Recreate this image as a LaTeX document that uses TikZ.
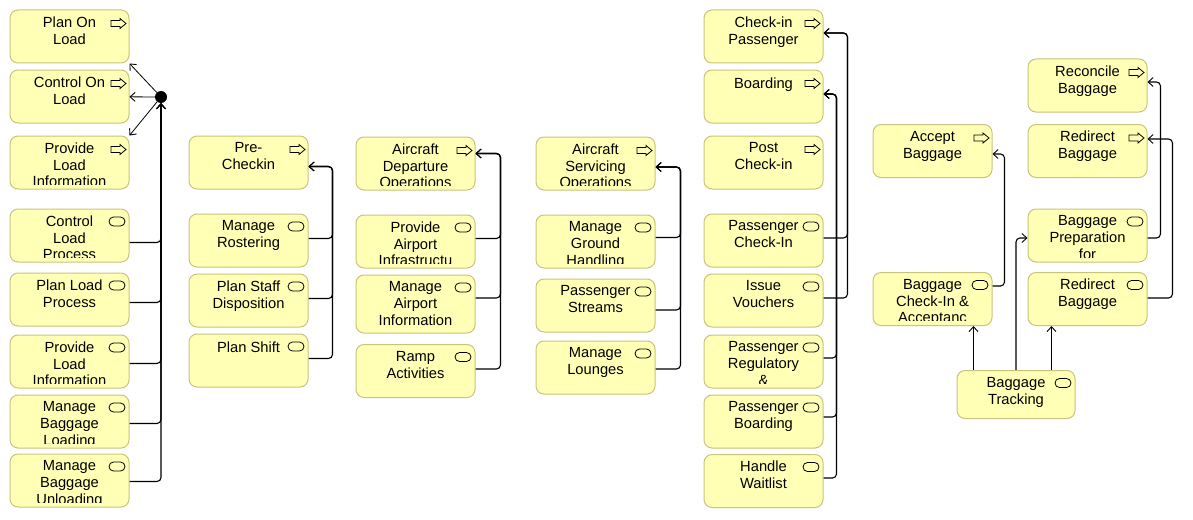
\documentclass[tikz,border=0pt]{standalone}
\usepackage{fontspec}
\setmainfont{Liberation Sans}
\usepackage{tikz}
\usetikzlibrary{arrows.meta}
\usetikzlibrary{positioning}
\definecolor{boxfill}{RGB}{255,255,181}
\definecolor{boxline}{RGB}{200,196,125}
\tikzset{link/.style = {line width=1.1, -{Straight Barb[length=5pt, width=9pt, line width=0.9pt]}}}
\tikzset{junction/.style = {fill, circle, inner sep = 0, minimum size = 12}}
\tikzset{box/.style = {draw=boxline, fill=boxfill, line width=1, rounded corners=8,
                       inner sep=0, minimum width=119, minimum height=53}}
\tikzset{boxtext/.style = {draw=none, fill=none, inner sep=0, minimum width=0, minimum height=0,
                           anchor=north, align=center, font=\fontsize{14.7}{16.7}\selectfont,
                           execute at begin node=\strut}}
\tikzset{icon/.style = {draw=black, fill=boxfill, line width=0.8, sharp corners}}
\tikzset{proc/.style = {box, path picture={
  \clip ([yshift=5pt]path picture bounding box.south west) rectangle (path picture bounding box.north east);
  \node [boxtext] at ([yshift=-6.3pt]path picture bounding box.north) {#1};
  \draw [icon] (path picture bounding box.north east) ++(-18,10.5) -- ++(9,0) -- ++(0,-2)
    -- ++(6,5) -- ++(-6,5) -- ++(0,-2) -- ++(-9,0) -- cycle;}}}
\tikzset{serv/.style = {box, path picture={
  \clip ([yshift=5pt]path picture bounding box.south west) rectangle (path picture bounding box.north east);
  \node [boxtext] at ([yshift=-6.3pt]path picture bounding box.north) {#1};
  \draw [icon, rounded corners=4.5] (path picture bounding box.north east) ++(-20,8) rectangle ++(16,9);}}}

\begin{document}
\begin{tikzpicture}[x=1pt, y=-1pt]
    \useasboundingbox (0,0) rectangle (1193,519);

    % load control
    \node [proc={Plan On\\Load}] (pol) at (69.5,36.5) {};
    \node [proc={Control On\\Load}] (col) at (69.5,96.5) {};
    \node [proc={Provide\\Load\\Information}] (pli) at (69.5,162.5) {};
    \node [serv={Control\\Load\\Process}] (clp) at (69.5,235.5) {};
    \node [serv={Plan Load\\Process}] (plp) at (69.5,299.5) {};
    \node [serv={Provide\\Load\\Information}] (pli2) at (69.5,361.5) {};
    \node [serv={Manage\\Baggage\\Loading}] (mbl) at (69.5,421.5) {};
    \node [serv={Manage\\Baggage\\Unloading}] (mbu) at (69.5,480.5) {};
    \node [junction] (jn) at (161,97) {};

    \draw [link, line width=0.8] (jn) -- (pol.south east);
    \draw [link, line width=0.8] (jn) -- (col);
    \draw [link, line width=0.8] (jn) -- (pli.north east);
    \draw [link, rounded corners=4] ([yshift=-7pt]clp.east) -| (jn);
    \draw [link, rounded corners=4] ([yshift=-3pt]plp.east) -| (jn);
    \draw [link, rounded corners=4] ([yshift=-2pt]pli2.east) -| (jn);
    \draw [link, rounded corners=4] ([yshift=-2pt]mbl.east) -| (jn);
    \draw [link, rounded corners=4] ([yshift=-1pt]mbu.east) -| (jn);

    % staff
    \node [proc={Pre-\\Checkin}] (pre) at (248.5,162.5) {};
    \node [serv={Manage\\Rostering}] (mros) at (248.5,240.5) {};
    \node [serv={Plan Staff\\Disposition}] (psd) at (248.5,300.5) {};
    \node [serv={Plan Shift}] (pshift) at (248.5,360.5) {};

    \draw [link, rounded corners=4] ([yshift=2pt]mros.east) -- ++(24,0) |- ([yshift=-4pt]pre.east);
    \draw [link, rounded corners=4] ([yshift=2pt]psd.east) -- ++(24,0) |- ([yshift=-4pt]pre.east);
    \draw [link, rounded corners=4] ([yshift=2pt]pshift.east) -- ++(24,0) |- ([yshift=-4pt]pre.east);

    % aircraft departure
    \node [proc={Aircraft\\Departure\\Operations}] (ado) at (415.5,163.5) {};
    \node [serv={Provide\\Airport\\Infrastructu}] (pai) at (415.5,241.5) {};
    \node [serv={Manage\\Airport\\Information}, minimum height=58] (mai) at (415.5,304) {};
    \node [serv={Ramp\\Activities}] (ramp) at (415.5,371) {};

    \draw [link, rounded corners=4] ([yshift=3pt]pai.east) -- ++(25,0) |- ([yshift=10pt]ado.east);
    \draw [link, rounded corners=4] ([yshift=6pt]mai.east) -- ++(25,0) |- ([yshift=10pt]ado.east);
    \draw [link, rounded corners=4] ([yshift=2pt]ramp.east) -- ++(25,0) |- ([yshift=10pt]ado.east);

    % aircraft servicing
    \node [proc={Aircraft\\Servicing\\Operations}] (aso) at (595.5,163.5) {};
    \node [serv={Manage\\Ground\\Handling}] (mgh) at (595.5,241.5) {};
    \node [serv={Passenger\\Streams}] (pstr) at (595.5,305.5) {};
    \node [serv={Manage\\Lounges}] (mlou) at (595.5,367.5) {};

    \draw [link, rounded corners=4] ([yshift=4pt]mgh.east) -- ++(25,0) |- ([yshift=-3.5pt]aso.east);
    \draw [link, rounded corners=4] ([yshift=-4.5pt]pstr.east) -- ++(25,0) |- ([yshift=-3.5pt]aso.east);
    \draw [link, rounded corners=4] ([yshift=-1.5pt]mlou.east) -- ++(25,0) |- ([yshift=-3.5pt]aso.east);

    % passenger
    \node [proc={Check-in\\Passenger}] (cip) at (763.5,36.5) {};
    \node [proc={Boarding}] (board) at (763.5,96.5) {};
    \node [proc={Post\\Check-in}] (post) at (763.5,162.5) {};
    \node [serv={Passenger\\Check-In}] (pci) at (763.5,240.5) {};
    \node [serv={Issue\\Vouchers}] (iv) at (763.5,300.5) {};
    \node [serv={Passenger\\Regulatory\\\&}] (preg) at (763.5,361.5) {};
    \node [serv={Passenger\\Boarding}] (pboard) at (763.5,421.5) {};
    \node [serv={Handle\\Waitlist}] (hwl) at (763.5,481) {};

    \draw [link, rounded corners=4] ([yshift=2.5pt]pci.east) -- ++(24,0) |- ([yshift=3.5pt]cip.east);
    \draw [link, rounded corners=4] ([yshift=2.5pt]iv.east) -- ++(24,0) |- ([yshift=3.5pt]cip.east);
    \draw [link, rounded corners=4] ([yshift=3.5pt]preg.east) -- ++(13,0) |- ([yshift=2.5pt]board.east);
    \draw [link, rounded corners=4] ([yshift=4.5pt]pboard.east) -- ++(13,0) |- ([yshift=2.5pt]board.east);
    \draw [link, rounded corners=4] ([yshift=3pt]hwl.east) -- ++(13,0) |- ([yshift=2.5pt]board.east);

    % baggage
    \node [proc={Accept\\Baggage}] (acc) at (932.5,151) {};
    \node [serv={Baggage\\Check-In \&\\Acceptanc}] (bci) at (932.5,299) {};
    \node [serv={Baggage\\Tracking}, minimum width=118, minimum height=48] (btrack) at (1016,394.5) {};
    \node [proc={Reconcile\\Baggage}] (rec) at (1087.5,85.5) {};
    \node [proc={Redirect\\Baggage}] (redp) at (1087.5,151) {};
    \node [serv={Baggage\\Preparation\\for}] (bprep) at (1087.5,235.5) {};
    \node [serv={Redirect\\Baggage}] (reds) at (1087.5,299) {};
    \coordinate (bt1) at ([xshift=17pt]btrack.north west);
    \coordinate (bt3) at ([xshift=95pt]btrack.north west);

    \draw [link, rounded corners=4] ([yshift=13pt]bci.east) -- ++(12,0) |- ([yshift=-3pt]acc.east);
    \draw [link] (bt1) -- (bt1 |- bci.south);
    \draw [link] (bt3) -- (bt3 |- reds.south);
    \draw [link, rounded corners=4] (btrack.north) |- ([yshift=-2.5pt]bprep.west);
    \draw [link, rounded corners=4] ([yshift=-2.5pt]bprep.east) -- ++(13,0) |- ([yshift=3.5pt]rec.east);
    \draw [link, rounded corners=4] ([yshift=1pt]reds.east) -- ++(25,0) |- ([yshift=12pt]redp.east);
\end{tikzpicture}
\end{document}
